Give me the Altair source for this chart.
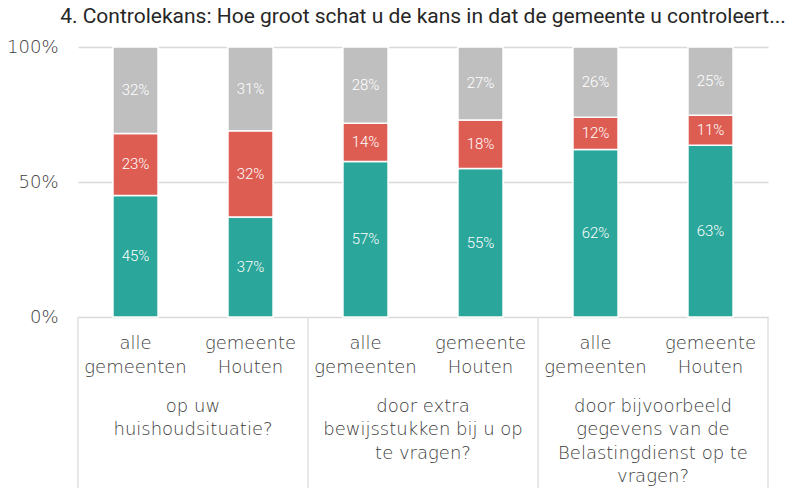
import altair as alt
import pandas as pd

title_text = "4. Controlekans: Hoe groot schat u de kans in dat de gemeente u controleert..."
group_labels = [
    "op uw\nhuishoudsituatie?",
    "door extra\nbewijsstukken bij u op\nte vragen?",
    "door bijvoorbeeld\ngegevens van de\nBelastingdienst op te\nvragen?",
]
bar_labels = ["alle\ngemeenten", "gemeente\nHouten"] * 3
series = ["reeks 1", "reeks 2", "reeks 3"]
teal_vals = [45, 37, 57, 55, 62, 63]
red_vals = [23, 32, 14, 18, 12, 11]
gray_vals = [32, 31, 28, 27, 26, 25]
colors = ["#2AA69A", "#DE5D53", "#BFBFBF"]

# build tables (stack normalised to 100%)
rows = []
for i in range(len(bar_labels)):
    total = teal_vals[i] + red_vals[i] + gray_vals[i]
    base = 0.0
    for s, vals in zip(series, [teal_vals, red_vals, gray_vals]):
        v = vals[i] / total
        rows.append(dict(idx=i, x0=i - 0.196, x1=i + 0.196, series=s,
                         y0=base, y1=base + v, ymid=base + v / 2,
                         label=f"{vals[i]}%"))
        base += v
bars_df = pd.DataFrame(rows)
xlab_df = pd.DataFrame(dict(idx=list(range(len(bar_labels))), lab=bar_labels))
glab_df = pd.DataFrame(dict(gx=[2 * g + 0.5 for g in range(len(group_labels))], lab=group_labels))
sep_df = pd.DataFrame(dict(sx=[2 * g - 0.5 for g in range(len(group_labels) + 1)]))

W, H = 690, 270
xscale = alt.Scale(domain=[-0.5, len(bar_labels) - 0.5], nice=False, zero=False)
yscale = alt.Scale(domain=[0, 1], nice=False)
axfont = "DejaVu Sans"
axweight = 200
axcol = "#3C3C3C"

bars = alt.Chart(bars_df).mark_bar(stroke="white", strokeWidth=1.5).encode(
    x=alt.X("x0:Q", scale=xscale, axis=None),
    x2="x1:Q",
    y=alt.Y("y0:Q", scale=yscale,
            axis=alt.Axis(values=[0, 0.5, 1], format=".0%", title=None, domain=False,
                          ticks=False, tickSize=0, labelPadding=20, labelFont=axfont,
                          labelFontWeight=axweight,
                          labelFontSize=18, labelColor=axcol, gridColor="#D9D9D9",
                          gridWidth=1.5)),
    y2="y1:Q",
    color=alt.Color("series:N", scale=alt.Scale(domain=series, range=colors), legend=None),
)

seg_text = alt.Chart(bars_df).mark_text(color="white", font="Roboto", fontSize=15,
                                        fontWeight=300).encode(
    x=alt.X("idx:Q", scale=xscale, axis=None),
    y=alt.Y("ymid:Q", scale=yscale),
    text="label:N",
)

xlab = alt.Chart(xlab_df).mark_text(font=axfont, fontWeight=axweight, fontSize=18, color=axcol,
                                    lineBreak="\n", baseline="alphabetic", lineHeight=23.5).encode(
    x=alt.X("idx:Q", scale=xscale, axis=None),
    y=alt.value(H + 32),
    text="lab:N",
)

glab = alt.Chart(glab_df).mark_text(font=axfont, fontWeight=axweight, fontSize=18, color=axcol,
                                    lineBreak="\n", baseline="alphabetic", lineHeight=23.3).encode(
    x=alt.X("gx:Q", scale=xscale, axis=None),
    y=alt.value(H + 95),
    text="lab:N",
)

seps = alt.Chart(sep_df).mark_rule(color="#D9D9D9", strokeWidth=1.2).encode(
    x=alt.X("sx:Q", scale=xscale, axis=None),
    y=alt.value(H),
    y2=alt.value(H + 200),
)

chart = alt.layer(seps, bars, seg_text, xlab, glab).properties(
    width=W, height=H,
    title=alt.Title(title_text, font="Roboto", fontSize=21, fontWeight="normal",
                    color="#262626", anchor="middle", offset=11),
    autosize=alt.AutoSizeParams(type="none"),
    padding={"left": 70, "top": 39, "right": 26, "bottom": 171},
).configure_view(stroke=None)

chart.save("out.html", embed_options={"renderer": "svg", "actions": False})
